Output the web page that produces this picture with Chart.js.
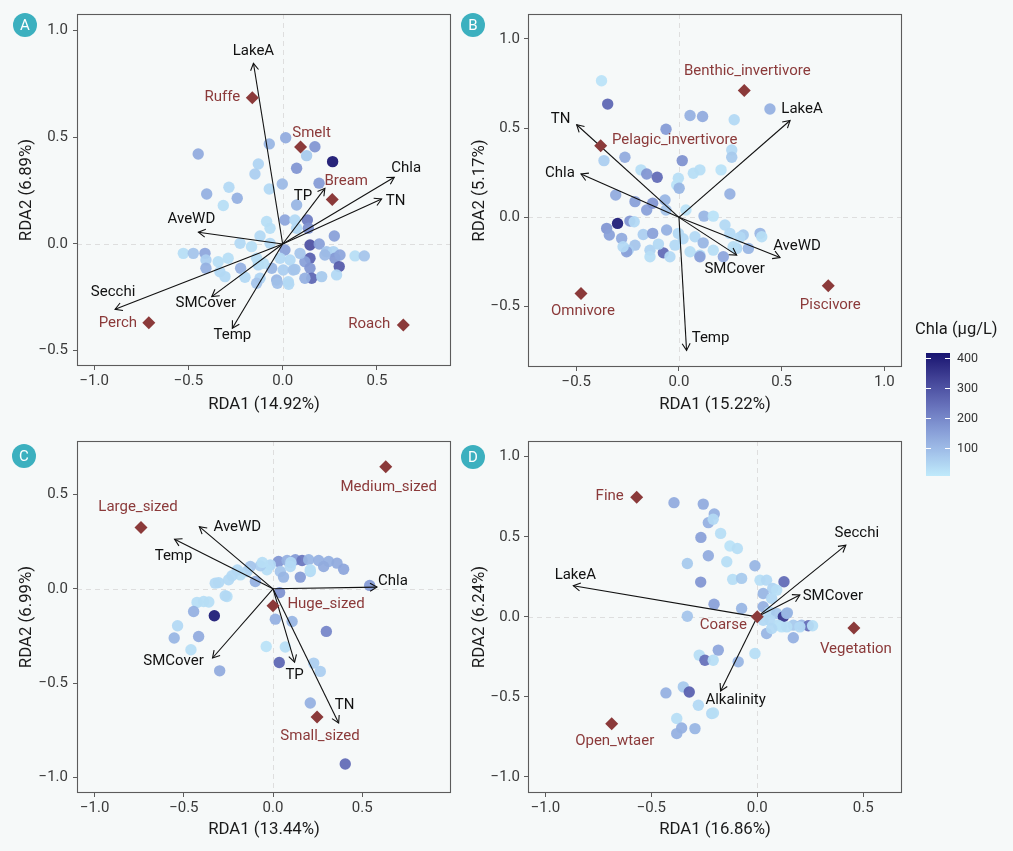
<!DOCTYPE html>
<html>
<head>
<meta charset="utf-8">
<script src="https://cdn.jsdelivr.net/npm/chart.js@4.4.1/dist/chart.umd.min.js"></script>
<style>
  html,body{margin:0;padding:0;background:#f6f9f9;}
  body{width:1013px;height:851px;position:relative;overflow:hidden;font-family:Roboto,"Noto Sans",sans-serif;}
  canvas{position:absolute;}
  .tag{position:absolute;width:24px;height:24px;border-radius:50%;background:#3cb0bf;color:#fff;font-size:15px;line-height:24px;text-align:center;}
  #legend{position:absolute;left:908px;top:318px;width:105px;height:170px;}
  #legTitle{position:absolute;left:7px;top:1px;font-size:16.5px;color:#1a1a1a;white-space:nowrap;}
  #legBar{position:absolute;left:18px;top:35px;width:24px;height:123px;}
  .legTick{position:absolute;left:49px;font-size:12.5px;color:#333;line-height:14px;}
  .legMark{position:absolute;height:1px;width:5px;background:#fff;}
</style>
</head>
<body>
<canvas id="cA" width="470" height="425" style="left:0;top:0;width:470px;height:425px"></canvas>
<canvas id="cB" width="440" height="425" style="left:470px;top:0;width:440px;height:425px"></canvas>
<canvas id="cC" width="470" height="426" style="left:0;top:425px;width:470px;height:426px"></canvas>
<canvas id="cD" width="440" height="426" style="left:470px;top:425px;width:440px;height:426px"></canvas>
<div class="tag" style="left:13px;top:13px">A</div>
<div class="tag" style="left:461px;top:13px">B</div>
<div class="tag" style="left:12px;top:444px">C</div>
<div class="tag" style="left:461px;top:445px">D</div>
<div id="legend"><div id="legTitle">Chla (µg/L)</div><div id="legBar"></div></div>
<script>
// ---------------- DATA ----------------
// Panel A: fish species
const A_siteX = [0.016,-0.071,0.171,0.127,0.265,-0.448,-0.129,-0.147,0.074,-0.002,0.193,-0.285,-0.403,-0.241,-0.315,-0.071,0.074,-0.085,-0.067,0.012,0.065,0.131,0.136,0.274,-0.120,-0.226,-0.165,-0.067,0.012,0.145,0.194,0.145,-0.527,-0.474,-0.412,-0.407,-0.407,-0.342,-0.289,-0.333,-0.223,-0.129,-0.120,-0.058,-0.032,0.003,0.056,0.030,0.118,0.145,0.154,0.118,0.207,0.233,0.269,0.277,0.300,0.304,0.286,0.384,0.433,0.074,0.224,-0.138,-0.014,-0.102,-0.138,-0.200,-0.306,0.032,-0.028,0.092,0.039,0.065];
const A_siteY = [0.498,0.469,0.456,0.414,0.386,0.422,0.375,0.328,0.355,0.281,0.285,0.266,0.234,0.214,0.180,0.258,0.183,0.105,0.074,0.1125,0.1125,0.1125,0.074,0.0375,0.0375,0.003,-0.0125,0.003,-0.028,-0.005,0.0,-0.067,-0.044,-0.044,-0.044,-0.075,-0.114,-0.083,-0.067,-0.130,-0.114,-0.098,-0.161,-0.114,-0.169,-0.122,-0.122,-0.177,-0.083,-0.114,-0.161,-0.161,-0.153,-0.036,-0.036,-0.067,-0.106,-0.052,-0.145,-0.056,-0.056,0.074,-0.052,-0.067,-0.067,-0.091,-0.184,-0.156,-0.153,-0.189,-0.184,-0.044,-0.075,-0.119];
const A_chla = [130,110,170,70,410,130,50,60,170,100,160,40,120,120,30,40,110,30,30,140,40,220,180,150,40,40,30,40,150,300,150,270,30,80,140,60,120,30,30,40,120,40,50,110,110,60,80,40,150,170,260,120,70,80,50,160,280,140,40,30,80,40,100,30,40,30,80,40,40,40,90,80,40,80];
const A_envNames = ["LakeA","Chla","TN","TP","AveWD","Secchi","SMCover","Temp"];
const A_envX = [-0.155,0.592,0.525,0.224,-0.447,-0.889,-0.376,-0.267];
const A_envY = [0.847,0.3125,0.211,0.261,0.055,-0.306,-0.247,-0.395];
const A_spNames = ["Ruffe","Smelt","Bream","Perch","Roach"];
const A_spX = [-0.161,0.095,0.263,-0.710,0.640];
const A_spY = [0.686,0.455,0.208,-0.369,-0.380];
const A_xTicks = [-1.0,-0.5,0.0,0.5];
const A_yTicks = [-0.5,0.0,0.5,1.0];
const A_xTitle = "RDA1 (14.92%)";
const A_yTitle = "RDA2 (6.89%)";

// Panel B: feeding guilds
const B_siteX = [-0.377,-0.347,0.054,0.115,0.269,0.443,-0.063,-0.263,-0.365,0.016,0.257,0.257,-0.185,-0.157,-0.106,-0.003,-0.011,0.001,0.070,0.102,0.205,0.248,-0.308,-0.214,-0.157,-0.128,-0.068,-0.063,0.034,0.122,0.167,-0.299,-0.239,-0.218,-0.352,-0.339,-0.279,-0.174,-0.128,-0.060,-0.003,-0.214,-0.247,-0.141,-0.076,-0.019,0.078,0.118,0.054,0.102,0.224,0.248,0.313,0.395,0.403,0.167,0.281,0.338,-0.255,-0.044,0.102,0.216,-0.141,0.297,0.264,-0.272,-0.100,0.020];
const B_siteY = [0.766,0.635,0.571,0.565,0.547,0.607,0.494,0.337,0.318,0.318,0.378,0.337,0.266,0.243,0.225,0.219,0.181,0.163,0.247,0.266,0.266,0.131,0.125,0.088,0.041,0.079,0.097,0.041,0.041,0.007,0.007,-0.034,-0.021,-0.025,-0.062,-0.099,-0.118,-0.096,-0.090,-0.071,-0.090,-0.156,-0.184,-0.184,-0.199,-0.156,-0.109,-0.143,-0.193,-0.212,-0.043,-0.090,-0.099,-0.090,-0.109,-0.184,-0.174,-0.174,-0.193,-0.221,-0.221,-0.221,-0.221,-0.112,-0.165,-0.165,-0.150,-0.120];
const B_chla = [20,260,120,130,40,120,160,130,60,180,40,70,30,170,250,30,20,110,30,30,20,120,130,150,150,170,110,80,20,110,20,400,170,40,170,150,130,60,150,120,40,80,60,50,250,40,40,110,30,40,40,40,70,110,30,30,40,110,150,40,150,140,30,40,30,40,40,40];
const B_envNames = ["LakeA","TN","Chla","AveWD","SMCover","Temp"];
const B_envX = [0.541,-0.498,-0.477,0.492,0.281,0.037];
const B_envY = [0.543,0.519,0.243,-0.225,-0.212,-0.746];
const B_spNames = ["Benthic_invertivore","Pelagic_invertivore","Omnivore","Piscivore"];
const B_spX = [0.318,-0.381,-0.477,0.727];
const B_spY = [0.711,0.402,-0.427,-0.384];
const B_xTicks = [-0.5,0.0,0.5,1.0];
const B_yTicks = [-0.5,0.0,0.5,1.0];
const B_xTitle = "RDA1 (15.22%)";
const B_yTitle = "RDA2 (5.17%)";

// Panel C: body size classes
const C_siteX = [0.031,0.079,0.125,0.163,0.200,0.256,0.312,0.359,0.396,-0.015,-0.034,0.041,0.097,0.153,0.209,0.284,-0.071,-0.127,-0.146,-0.183,-0.230,-0.249,-0.305,-0.099,0.059,-0.258,0.037,-0.389,-0.426,-0.445,-0.329,-0.535,-0.554,-0.417,-0.460,-0.299,0.013,0.107,0.299,-0.038,0.069,0.035,0.228,0.265,-0.324,-0.268,0.542,0.209,0.405,0.209,-0.200,-0.060,0.100,-0.360];
const C_siteY = [0.145,0.150,0.154,0.150,0.154,0.150,0.145,0.136,0.104,0.127,0.101,0.092,0.118,0.062,0.092,0.118,0.122,0.118,0.092,0.074,0.069,0.048,0.033,0.039,0.062,-0.041,-0.020,-0.067,-0.072,-0.120,-0.143,-0.196,-0.261,-0.253,-0.323,-0.435,-0.161,-0.173,-0.226,-0.306,-0.309,-0.391,-0.394,-0.438,0.030,-0.037,0.018,-0.606,-0.929,0.101,0.100,0.140,0.140,-0.070];
const C_chla = [170,120,160,230,110,120,120,130,140,40,30,80,40,160,40,130,60,80,50,30,40,40,40,120,110,30,180,30,30,120,400,40,110,130,30,130,120,110,200,20,30,260,60,60,40,40,160,120,250,30,40,30,40,30];
const C_envNames = ["Chla","AveWD","Temp","SMCover","TP","TN"];
const C_envX = [0.583,-0.413,-0.552,-0.339,0.121,0.368];
const C_envY = [0.009,0.330,0.263,-0.367,-0.389,-0.712];
const C_spNames = ["Medium_sized","Large_sized","Huge_sized","Small_sized"];
const C_spX = [0.632,-0.740,0.0,0.247];
const C_spY = [0.648,0.325,-0.090,-0.680];
const C_xTicks = [-1.0,-0.5,0.0,0.5];
const C_yTicks = [-1.0,-0.5,0.0,0.5];
const C_xTitle = "RDA1 (13.44%)";
const C_yTitle = "RDA2 (6.99%)";

// Panel D: habitat preference
const D_siteX = [-0.393,-0.255,-0.203,-0.231,-0.208,-0.266,-0.173,-0.129,-0.094,-0.231,-0.330,-0.144,-0.011,-0.267,-0.116,-0.074,0.013,0.044,0.126,0.073,-0.204,-0.074,-0.330,0.028,0.057,0.092,0.123,0.139,0.060,0.099,0.170,0.209,0.241,0.261,0.044,0.170,-0.011,-0.184,-0.274,-0.247,-0.208,-0.090,-0.431,-0.349,-0.321,-0.278,-0.215,-0.380,-0.357,-0.380,-0.294,0.028,0.068,0.092,0.028,0.115,0.139,0.068,0.201,0.142,-0.207];
const D_siteY = [0.713,0.704,0.642,0.588,0.609,0.496,0.521,0.442,0.427,0.381,0.333,0.344,0.319,0.217,0.234,0.240,0.229,0.229,0.219,0.177,0.079,0.052,0.004,0.063,0.031,0.021,0.0,0.021,-0.021,-0.052,-0.052,-0.052,-0.056,-0.056,-0.104,-0.131,-0.229,-0.208,-0.239,-0.271,-0.271,-0.281,-0.475,-0.4375,-0.469,-0.552,-0.604,-0.635,-0.694,-0.729,-0.698,0.146,0.115,0.167,-0.021,-0.0625,-0.0625,-0.073,-0.0625,0.025,-0.600];
const D_chla = [130,130,120,120,40,150,30,20,30,130,70,30,110,170,30,70,30,40,250,50,150,110,80,120,40,70,350,110,40,30,70,100,240,30,110,120,30,140,30,240,30,110,120,70,270,40,40,30,120,120,110,110,40,30,40,20,30,40,40,110,30];
const D_envNames = ["LakeA","Secchi","SMCover","Alkalinity"];
const D_envX = [-0.868,0.418,0.201,-0.173];
const D_envY = [0.194,0.448,0.136,-0.463];
const D_spNames = ["Fine","Coarse","Vegetation","Open_wtaer"];
const D_spX = [-0.569,0.0,0.456,-0.687];
const D_spY = [0.746,0.0,-0.069,-0.667];
const D_xTicks = [-1.0,-0.5,0.0,0.5];
const D_yTicks = [-1.0,-0.5,0.0,0.5,1.0];
const D_xTitle = "RDA1 (16.86%)";
const D_yTitle = "RDA2 (6.24%)";

// Colour scale
const chlaMin = 7, chlaMax = 417;
const legendTicks = [100,200,300,400];
const legendTitle = "Chla (µg/L)";

// ---------------- STYLE ----------------
const LOW = "#BFEAFB", HIGH = "#161470";
const SP_COL = "#8B3A3A";
const FONT = "Roboto, 'Noto Sans', sans-serif";

// label offsets (px) relative to anchor [dx, dy]
const A_envOff = [[0,-12],[12,-9],[14,2],[-22,8],[-7,-13],[-2,-17],[-6,7],[0,7]];
const A_spOff = [[-30,0],[11,-14],[14,-18],[-31,1],[-34,-1]];
const B_envOff = [[12,-11],[-16,-6],[-21,-1],[17,-11],[-2,14],[24,-12]];
const B_spOff = [[3,-19],[74,-5],[2,18],[2,19]];
const C_envOff = [[16,-6],[38,1],[-1,17],[-39,3],[0,13],[6,-18]];
const C_spOff = [[3,21],[-3,-20],[53,-2],[3,19]];
const D_envOff = [[2,-11],[11,-12],[33,1],[15,9]];
const D_spOff = [[-27,-1],[-34,8],[2,21],[3,18]];

// Lab interpolation
function hex2rgb(h){h=h.replace('#','');return [0,2,4].map(i=>parseInt(h.substr(i,2),16));}
function toLin(c){c/=255;return c<=0.04045?c/12.92:Math.pow((c+0.055)/1.055,2.4);}
function fromLin(c){c=c<=0.0031308?12.92*c:1.055*Math.pow(c,1/2.4)-0.055;return Math.max(0,Math.min(255,Math.round(c*255)));}
function rgb2lab(rgb){const [r,g,b]=rgb.map(toLin);
 let x=(r*0.4124+g*0.3576+b*0.1805)/0.95047,y=(r*0.2126+g*0.7152+b*0.0722),z=(r*0.0193+g*0.1192+b*0.9505)/1.08883;
 const f=t=>t>0.008856?Math.cbrt(t):7.787*t+16/116;
 const fx=f(x),fy=f(y),fz=f(z);return [116*fy-16,500*(fx-fy),200*(fy-fz)];}
function lab2rgb(lab){const [L,a,bb]=lab;const fy=(L+16)/116,fx=fy+a/500,fz=fy-bb/200;
 const fi=t=>t*t*t>0.008856?t*t*t:(t-16/116)/7.787;
 const x=fi(fx)*0.95047,y=fi(fy),z=fi(fz)*1.08883;
 const r=x*3.2406+y*-1.5372+z*-0.4986,g=x*-0.9689+y*1.8758+z*0.0415,b=x*0.0557+y*-0.2040+z*1.0570;
 return [fromLin(r),fromLin(g),fromLin(b)];}
const LAB_LO=rgb2lab(hex2rgb(LOW)), LAB_HI=rgb2lab(hex2rgb(HIGH));
function colorFor(v,alpha){let t=(v-chlaMin)/(chlaMax-chlaMin);t=Math.max(0,Math.min(1,t));
 const lab=LAB_LO.map((c,i)=>c+(LAB_HI[i]-c)*t);
 lab[2]-=5*Math.sin(Math.PI*t);
 lab[0]+=3*Math.sin(Math.PI*t);
 const [r,g,b]=lab2rgb(lab);
 return alpha===undefined?`rgb(${r},${g},${b})`:`rgba(${r},${g},${b},${alpha})`;}

function fmt(v){const s=Math.abs(v).toFixed(1);return v<-1e-9?'\u2212'+s:s;}

// plugin: zero lines, border, arrowheads, labels
const biplotPlugin = {
  id:'biplot',
  beforeDatasetsDraw(chart){
    const {ctx,chartArea:a,scales:{x,y}}=chart;
    ctx.save();ctx.strokeStyle='#dedede';ctx.lineWidth=1;ctx.setLineDash([5,4]);
    const px=Math.round(x.getPixelForValue(0))+0.5, py=Math.round(y.getPixelForValue(0))+0.5;
    ctx.beginPath();ctx.moveTo(px,a.top);ctx.lineTo(px,a.bottom);ctx.moveTo(a.left,py);ctx.lineTo(a.right,py);ctx.stroke();
    ctx.restore();
  },
  afterDatasetsDraw(chart,args,opts){
    const {ctx,chartArea:a,scales:{x,y}}=chart;
    ctx.save();
    ctx.strokeStyle='#111';ctx.lineWidth=1.1;
    const ox=x.getPixelForValue(0), oy=y.getPixelForValue(0);
    opts.envX.forEach((ex,i)=>{
      const tx=x.getPixelForValue(ex), ty=y.getPixelForValue(opts.envY[i]);
      const ang=Math.atan2(ty-oy,tx-ox), L=8, w=Math.PI/6;
      ctx.beginPath();
      ctx.moveTo(tx-L*Math.cos(ang-w),ty-L*Math.sin(ang-w));
      ctx.lineTo(tx,ty);
      ctx.lineTo(tx-L*Math.cos(ang+w),ty-L*Math.sin(ang+w));
      ctx.stroke();
    });
    ctx.textAlign='center';ctx.textBaseline='middle';
    ctx.font='15px '+FONT;
    ctx.fillStyle='#111';
    opts.envNames.forEach((n,i)=>{
      ctx.fillText(n,x.getPixelForValue(opts.envX[i])+opts.envOff[i][0],y.getPixelForValue(opts.envY[i])+opts.envOff[i][1]);
    });
    ctx.fillStyle=SP_COL;
    opts.spNames.forEach((n,i)=>{
      ctx.fillText(n,x.getPixelForValue(opts.spX[i])+opts.spOff[i][0],y.getPixelForValue(opts.spY[i])+opts.spOff[i][1]);
    });
    ctx.restore();
  },
  afterDraw(chart){
    const {ctx,chartArea:a}=chart;
    ctx.save();ctx.strokeStyle='#5c5c5c';ctx.lineWidth=1.1;
    ctx.strokeRect(a.left+0.5,a.top+0.5,a.right-a.left-1,a.bottom-a.top-1);
    ctx.restore();
  }
};

function makePanel(id,p){
  const datasets=[];
  datasets.push({type:'scatter',order:0,data:p.spX.map((v,i)=>({x:v,y:p.spY[i]})),
    pointStyle:'rectRot',pointRadius:6.5,pointBackgroundColor:SP_COL,pointBorderWidth:0,pointBorderColor:SP_COL});
  p.envX.forEach((v,i)=>{
    datasets.push({type:'scatter',order:1,showLine:true,data:[{x:0,y:0},{x:v,y:p.envY[i]}],
      borderColor:'#111',borderWidth:1.1,pointRadius:0,fill:false});
  });
  datasets.push({type:'scatter',order:2,data:p.siteX.map((v,i)=>({x:v,y:p.siteY[i]})),
    pointRadius:5.7,pointBorderWidth:0,pointBackgroundColor:p.chla.map(c=>colorFor(c,0.95))});
  const tickFont={family:FONT,size:15};
  new Chart(document.getElementById(id),{
    data:{datasets},
    options:{
      responsive:false,animation:false,events:[],
      layout:{padding:p.pad},
      plugins:{legend:{display:false},tooltip:{enabled:false},
        biplot:{envX:p.envX,envY:p.envY,envNames:p.envNames,envOff:p.envOff,spX:p.spX,spY:p.spY,spNames:p.spNames,spOff:p.spOff}},
      scales:{
        x:{type:'linear',position:'bottom',min:p.xr[0],max:p.xr[1],
          afterBuildTicks:s=>{s.ticks=p.xTicks.map(v=>({value:v}));},
          afterFit:s=>{s.height=p.xH;},
          ticks:{callback:v=>fmt(v),font:tickFont,color:'#3a3a3a',padding:2,autoSkip:false,maxRotation:0},
          grid:{drawOnChartArea:false,drawTicks:true,tickLength:4,color:'#5c5c5c'},
          border:{display:false},
          title:{display:true,text:p.xTitle,font:{family:FONT,size:16.8},color:'#1a1a1a',padding:{top:0,bottom:p.xtp}}},
        y:{type:'linear',position:'left',min:p.yr[0],max:p.yr[1],
          afterBuildTicks:s=>{s.ticks=p.yTicks.map(v=>({value:v}));},
          afterFit:s=>{s.width=p.yW;},
          ticks:{callback:v=>fmt(v),font:tickFont,color:'#3a3a3a',padding:p.ytpad,autoSkip:false},
          grid:{drawOnChartArea:false,drawTicks:true,tickLength:4,color:'#5c5c5c'},
          border:{display:false},
          title:{display:true,text:p.yTitle,font:{family:FONT,size:16.8},color:'#1a1a1a',padding:{top:p.ytp,bottom:0}}}
      }
    },
    plugins:[biplotPlugin]
  });
}

makePanel('cA',{siteX:A_siteX,siteY:A_siteY,chla:A_chla,envX:A_envX,envY:A_envY,envNames:A_envNames,envOff:A_envOff,
  spX:A_spX,spY:A_spY,spNames:A_spNames,spOff:A_spOff,xTicks:A_xTicks,yTicks:A_yTicks,xTitle:A_xTitle,yTitle:A_yTitle,
  xr:[-1.091,0.893],yr:[-0.572,1.078],pad:{left:0,top:14,right:19,bottom:0},xH:59,yW:77,xtp:10,ytp:17,ytpad:5});
makePanel('cB',{siteX:B_siteX,siteY:B_siteY,chla:B_chla,envX:B_envX,envY:B_envY,envNames:B_envNames,envOff:B_envOff,
  spX:B_spX,spY:B_spY,spNames:B_spNames,spOff:B_spOff,xTicks:B_xTicks,yTicks:B_yTicks,xTitle:B_xTitle,yTitle:B_yTitle,
  xr:[-0.735,1.086],yr:[-0.839,1.14],pad:{left:0,top:14,right:8,bottom:0},xH:58,yW:58,xtp:10,ytp:0,ytpad:4});
makePanel('cC',{siteX:C_siteX,siteY:C_siteY,chla:C_chla,envX:C_envX,envY:C_envY,envNames:C_envNames,envOff:C_envOff,
  spX:C_spX,spY:C_spY,spNames:C_spNames,spOff:C_spOff,xTicks:C_xTicks,yTicks:C_yTicks,xTitle:C_xTitle,yTitle:C_yTitle,
  xr:[-1.099,0.998],yr:[-1.083,0.784],pad:{left:0,top:16,right:19,bottom:0},xH:58,yW:77,xtp:11,ytp:17,ytpad:5});
makePanel('cD',{siteX:D_siteX,siteY:D_siteY,chla:D_chla,envX:D_envX,envY:D_envY,envNames:D_envNames,envOff:D_envOff,
  spX:D_spX,spY:D_spY,spNames:D_spNames,spOff:D_spOff,xTicks:D_xTicks,yTicks:D_yTicks,xTitle:D_xTitle,yTitle:D_yTitle,
  xr:[-1.082,0.683],yr:[-1.1,1.098],pad:{left:0,top:16,right:8,bottom:0},xH:58,yW:58,xtp:11,ytp:0,ytpad:4});

// Legend (colour bar)
(function(){
  const bar=document.getElementById('legBar'), leg=document.getElementById('legend');
  document.getElementById('legTitle').textContent=legendTitle;
  const stops=[];for(let i=0;i<=20;i++){const v=chlaMax-(chlaMax-chlaMin)*i/20;stops.push(colorFor(v)+' '+(i*5)+'%');}
  bar.style.background='linear-gradient(to bottom,'+stops.join(',')+')';
  const barTop=35,barH=123;
  legendTicks.forEach(v=>{
    const yy=barTop+(chlaMax-v)/(chlaMax-chlaMin)*barH;
    const t=document.createElement('div');t.className='legTick';t.textContent=v;t.style.top=(yy-7)+'px';leg.appendChild(t);
    [18,37].forEach(xx=>{const m=document.createElement('div');m.className='legMark';m.style.left=xx+'px';m.style.top=Math.round(yy)+'px';leg.appendChild(m);});
  });
})();
</script>
</body>
</html>
